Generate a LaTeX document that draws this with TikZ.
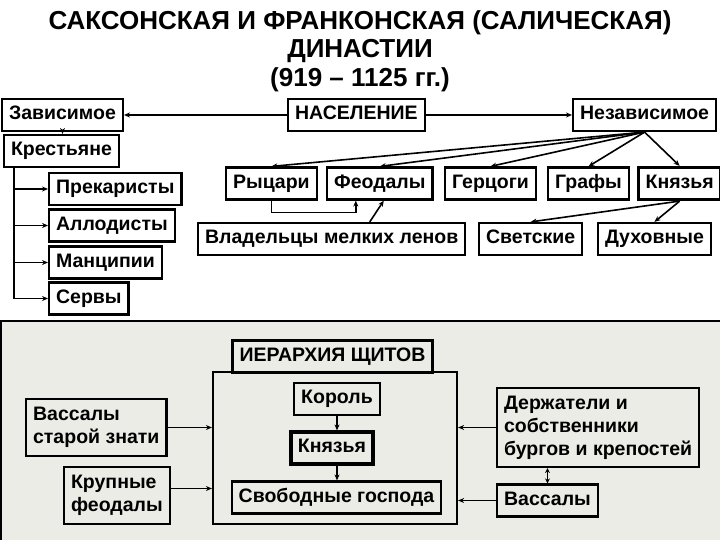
\documentclass[tikz,border=0pt]{standalone}
\usepackage{fontspec}
\setmainfont{Liberation Sans}
\usetikzlibrary{arrows.meta, positioning, calc}
\definecolor{panelgray}{RGB}{236,236,230}

\begin{document}
\begin{tikzpicture}[
    x=1pt, y=-1pt,
    multibox/.style={rectangle, draw, line width=2.2pt, anchor=west, align=left, minimum height=32pt, inner xsep=7pt, inner ysep=3pt, font=\fontsize{19.5}{23}\selectfont\bfseries},
    box/.style={multibox, text height=14pt, text depth=4.5pt},
    thickbox/.style={box, line width=3.2pt},
    arrow/.style={-{Stealth[length=6pt, width=5pt]}, line width=1.6pt},
    darrow/.style={{Stealth[length=5pt, width=5pt]}-{Stealth[length=5pt, width=5pt]}, line width=1.6pt}
]
\useasboundingbox (0,0) rectangle (720,540);

% 0. Title
\node[align=center, font=\fontsize{26}{28.5}\selectfont\bfseries] (title) at (360,51) {САКСОНСКАЯ И ФРАНКОНСКАЯ (САЛИЧЕСКАЯ)\\ ДИНАСТИИ\\ (919 – 1125 гг.)};

% 1. Population
\node[box] (nasel) at (287,115) {НАСЕЛЕНИЕ};
\node[box] (zav) at (1,115) {Зависимое};
\node[box] (nezav) at (572,115) {Независимое};

% 2. Dependent branch
\node[box] (kres) at (3,151) {Крестьяне};
\node[box] (prek) at (48,189) {Прекаристы};
\node[box] (allod) at (48,225.5) {Аллодисты};
\node[box] (manc) at (48,262.5) {Манципии};
\node[box] (serv) at (48,298.5) {Сервы};

% 3. Independent branch
\node[box] (ryc) at (225,183.5) {Рыцари};
\node[box] (feod) at (326,183.5) {Феодалы};
\node[box] (gerc) at (444,183.5) {Герцоги};
\node[box] (graf) at (547,183.5) {Графы};
\node[thickbox] (knyaz) at (637,183.5) {Князья};
\node[box] (vlad) at (197,239) {Владельцы мелких ленов};
\node[box] (svet) at (478,239) {Светские};
\node[box] (duh) at (597,239) {Духовные};

% 4. Lower panel
\fill[panelgray] (1,321) rectangle (720,540);
\draw[line width=1.2pt] (720,321) -- (1,321) -- (1,540);

\node[draw, line width=2.2pt, minimum width=244pt, minimum height=152pt] (shield) at (335,448) {};
\node[thickbox, fill=panelgray, anchor=center] (hier) at (332.5,356.5) {ИЕРАРХИЯ ЩИТОВ};
\node[box, anchor=center] (korol) at (337,399) {Король};
\node[thickbox, anchor=center] (kn2) at (332,448) {Князья};
\node[box, anchor=center] (svob) at (336.5,497.5) {Свободные господа};

\node[multibox, minimum height=57pt] (vstar) at (25,427.5) {Вассалы\\ старой знати};
\node[multibox, minimum height=57pt] (krup) at (63,495.5) {Крупные\\ феодалы};
\node[multibox, minimum height=79pt] (derzh) at (496,427.5) {Держатели и\\ собственники\\ бургов и крепостей};
\node[box] (vass) at (496,500.5) {Вассалы};

% 5. Connections (Arrows)
\draw[arrow] (nasel) -- (zav);
\draw[arrow] (nasel) -- (nezav);
\draw[arrow] (zav.south) -- (zav.south |- kres.north);

% Dependent tree
\coordinate (trunk) at ([xshift=11pt]kres.south west);
\draw[line width=1.6pt] (trunk) -- (trunk |- serv.west);
\foreach \n in {prek, allod, manc, serv}
    \draw[arrow] (trunk) |- (\n.west);

% Independent fan
\foreach \n in {ryc, feod, gerc, graf, knyaz}
    \draw[arrow] (nezav.south) -- (\n.north);
\draw[arrow] (ryc.south) -- ++(0,12) -| ([xshift=-24pt]feod.south);
\draw[arrow] ([xshift=38pt]vlad.north) -- ([xshift=4pt]feod.south);
\draw[arrow] (knyaz.south) -- (svet.north);
\draw[arrow] (knyaz.south) -- (duh.north);

% Shield hierarchy
\draw[arrow] (korol.south) -- (korol.south |- kn2.north);
\draw[arrow] (korol.south |- kn2.south) -- (korol.south |- svob.north);
\draw[arrow] (vstar.east) -- (vstar.east -| shield.west);
\draw[arrow] ([yshift=7pt]krup.east) -- ([yshift=7pt]krup.east -| shield.west);
\draw[arrow] (derzh.west) -- (derzh.west -| shield.east);
\draw[arrow] (vass.west) -- (vass.west -| shield.east);
\draw[darrow] (vass.north) -- (vass.north |- derzh.south);

\end{tikzpicture}
\end{document}
